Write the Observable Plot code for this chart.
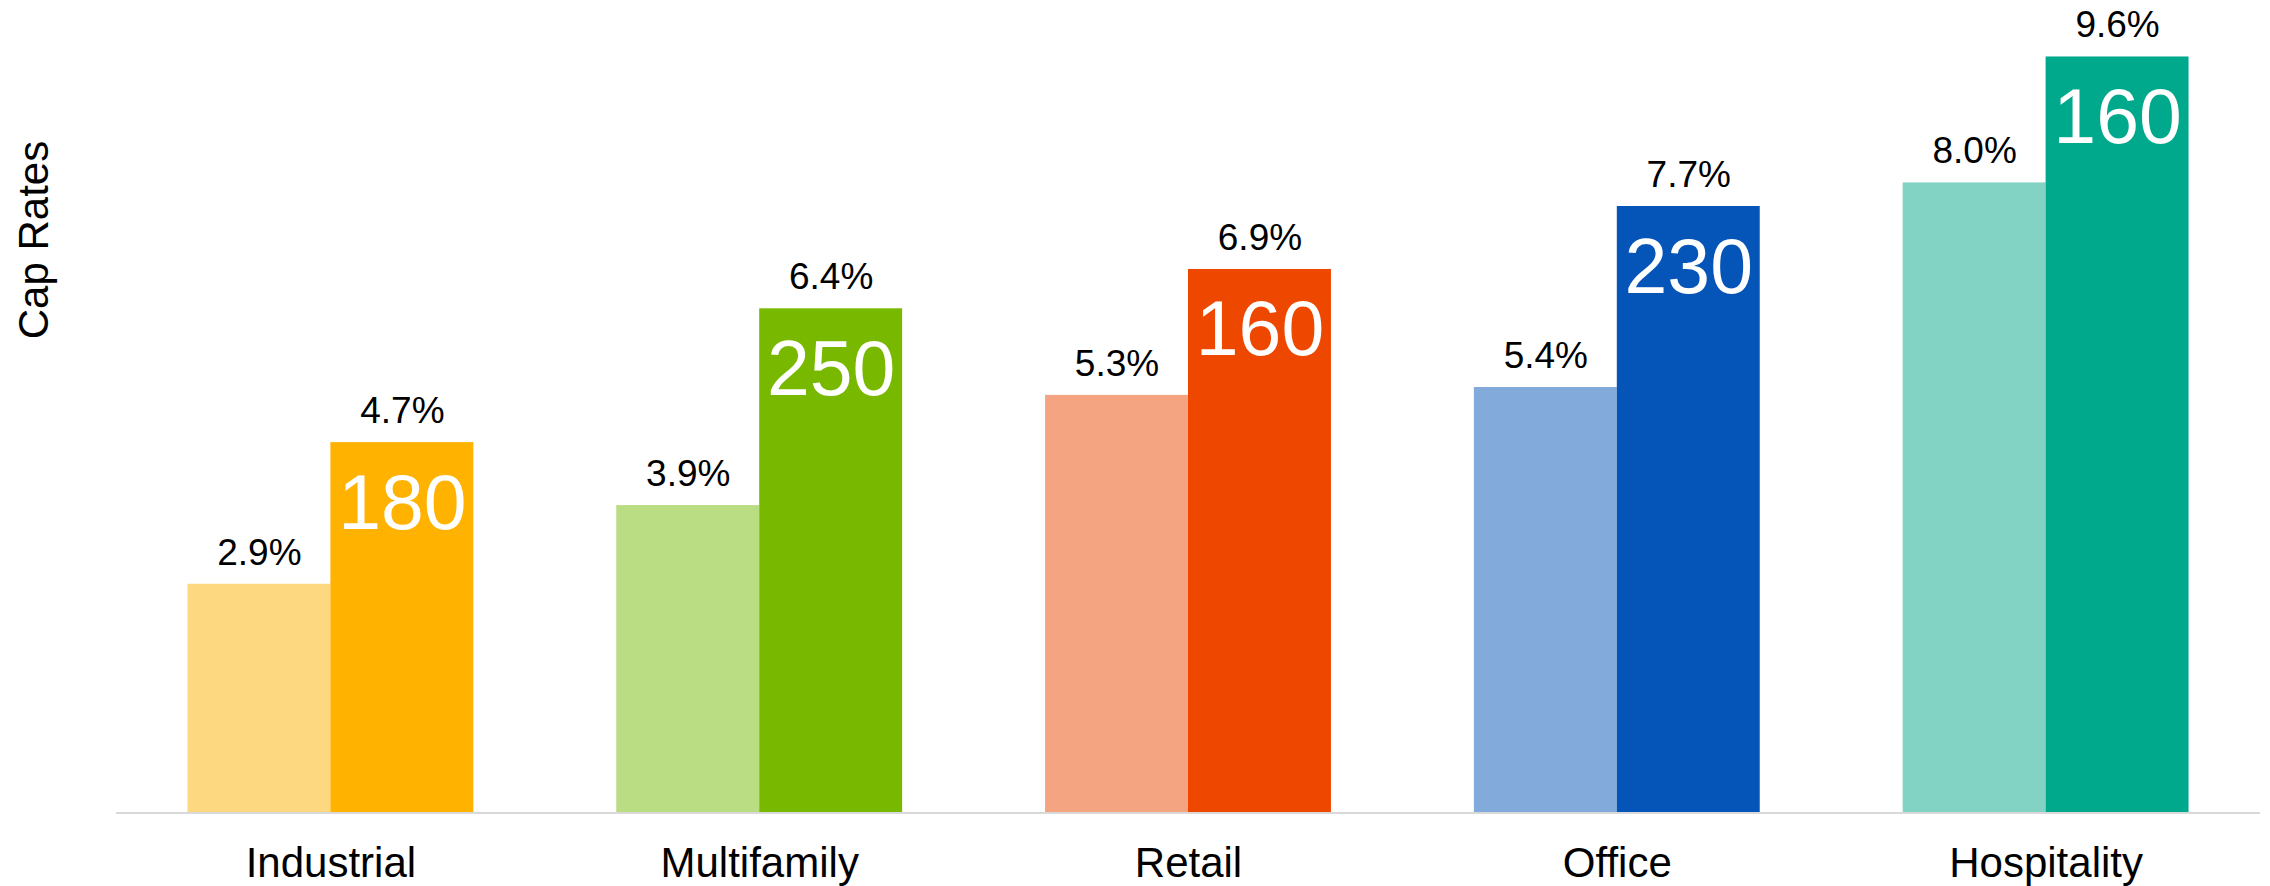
<!DOCTYPE html>
<html>
<head>
<meta charset="utf-8">
<script src="https://cdn.jsdelivr.net/npm/d3@7"></script>
<script src="https://cdn.jsdelivr.net/npm/@observablehq/plot@0.6"></script>
<style>
  html, body { margin: 0; padding: 0; background: #ffffff; }
  #chart { width: 2270px; height: 886px; }
</style>
</head>
<body>
<div id="chart"></div>
<script>
const categories = ["Industrial", "Multifamily", "Retail", "Office", "Hospitality"];
const periods = ["before", "after"];
const beforeRates = [2.9, 3.9, 5.3, 5.4, 8.0];
const afterRates = [4.7, 6.4, 6.9, 7.7, 9.6];
const spreadBps = [180, 250, 160, 230, 160];
const lightColors = ["#FDD880", "#BADC82", "#F4A480", "#82AADB", "#83D3C5"];
const darkColors = ["#FFB300", "#78B900", "#EE4700", "#0554B7", "#00A88C"];
const yLabel = "Cap Rates";

const data = categories.flatMap((c, i) => [
  {category: c, period: periods[0], rate: beforeRates[i], color: lightColors[i], spread: null},
  {category: c, period: periods[1], rate: afterRates[i], color: darkColors[i], spread: spreadBps[i]}
]);

const font = "'Liberation Sans', Arial, Helvetica, sans-serif";

const plot = Plot.plot({
  width: 2270,
  height: 886,
  marginLeft: 116,
  marginRight: 10,
  marginTop: 25,
  marginBottom: 74,
  style: {fontFamily: font, background: "#ffffff", color: "#000000", overflow: "visible"},
  fx: {domain: categories, paddingInner: 1/3, paddingOuter: 1/6, round: false, label: null},
  x: {domain: periods, padding: 0, round: false, axis: null},
  y: {domain: [0, 10], axis: null},
  color: {type: "identity"},
  marks: [
    Plot.barY(data, {fx: "category", x: "period", y: "rate", fill: "color"}),
    Plot.text(data, {
      fx: "category", x: "period", y: "rate",
      text: d => d.rate.toFixed(1) + "%",
      lineAnchor: "bottom", dy: -19.5, fontSize: 37, fill: "#000000"
    }),
    Plot.text(data.filter(d => d.spread != null), {
      fx: "category", x: "period", y: "rate",
      text: d => String(d.spread),
      lineAnchor: "bottom", dy: 86, fontSize: 77, fill: "#ffffff"
    }),
    Plot.axisFx({anchor: "bottom", tickSize: 0, tickPadding: 35, fontSize: 42, label: null, fill: "#000000"})
  ]
});

document.getElementById("chart").appendChild(plot);

const svg = d3.select(plot);
const y0 = plot.scale("y").apply(0);
svg.append("line")
  .attr("x1", 116).attr("x2", 2260)
  .attr("y1", y0 + 1).attr("y2", y0 + 1)
  .attr("stroke", "#d9d9d9").attr("stroke-width", 2);

svg.append("text")
  .attr("transform", "translate(48,240) rotate(-90)")
  .attr("text-anchor", "middle")
  .attr("font-family", font)
  .attr("font-size", 42)
  .attr("fill", "#000000")
  .text(yLabel);
</script>
</body>
</html>
